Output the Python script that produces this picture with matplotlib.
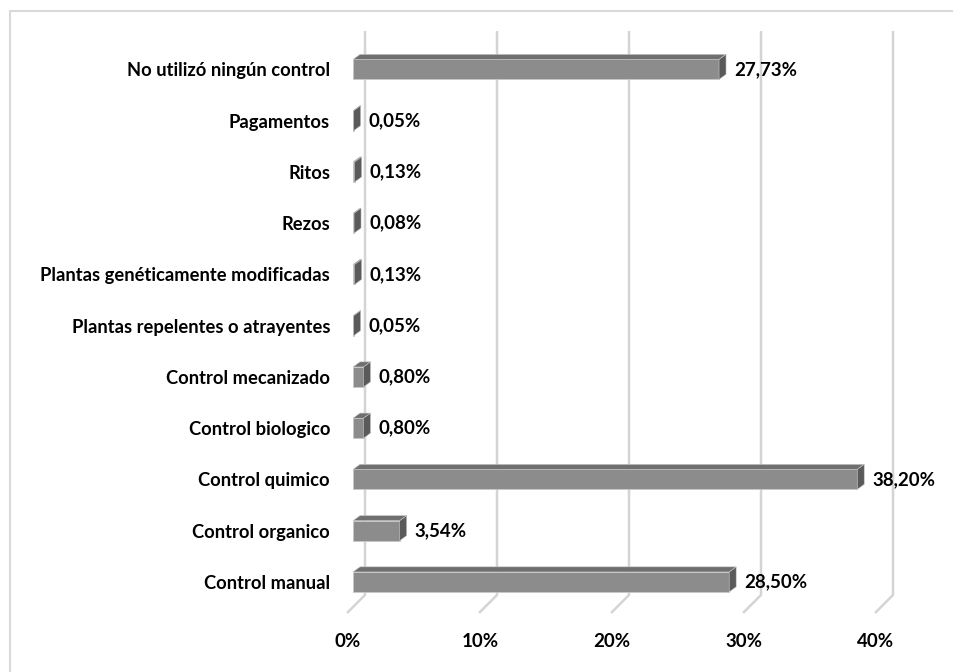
import matplotlib.pyplot as plt
from matplotlib.patches import Polygon, Rectangle
from matplotlib.transforms import ScaledTranslation

# --- Données (du bas vers le haut) ---
categories = ["Control manual", "Control organico", "Control quimico",
              "Control biologico", "Control mecanizado",
              "Plantas repelentes o atrayentes",
              "Plantas genéticamente modificadas", "Rezos", "Ritos",
              "Pagamentos", "No utilizó ningún control"]
values = [28.50, 3.54, 38.20, 0.80, 0.80, 0.05, 0.13, 0.08, 0.13, 0.05, 27.73]
value_labels = ["28,50%", "3,54%", "38,20%", "0,80%", "0,80%", "0,05%",
                "0,13%", "0,08%", "0,13%", "0,05%", "27,73%"]
xticks = [0, 10, 20, 30, 40]
xtick_labels = ["0%", "10%", "20%", "30%", "40%"]

plt.rcParams['font.family'] = ['Lato', 'DejaVu Sans']

fig = plt.figure(figsize=(9.54, 6.72), dpi=100)
ax = fig.add_axes([353 / 954, 0.0768, 554.4 / 954, 0.877])
ax.set_xlim(0, 42)
ax.set_ylim(-0.75, 10.75)

# cadre du graphique
fig.add_artist(Rectangle((10 / 954, -0.05), 1.0, (672 - 11) / 672 + 0.05,
                         transform=fig.transFigure, fill=False,
                         edgecolor="#d9d9d9", lw=1.5))

# grille "3D" : ligne verticale au fond + petite diagonale au sol
back_dx = 0.91
for t in xticks:
    ax.plot([t + back_dx, t + back_dx, t - 0.45], [10.75, -0.254, -0.605],
            color="#d4d4d4", lw=1.8, solid_capstyle="butt", clip_on=False, zorder=1)

# barres 3D
h = 0.39
dx, dy = 0.53, 0.1
ypos = list(range(len(categories)))
ax.barh(ypos, values, height=h, color="#8c8c8c", edgecolor="#c8c8c8",
        linewidth=0.6, zorder=3)
for y, v in zip(ypos, values):
    top = Polygon([(0, y + h / 2), (v, y + h / 2), (v + dx, y + h / 2 + dy),
                   (dx, y + h / 2 + dy)], closed=True, facecolor="#6f6f6f",
                  edgecolor="#c8c8c8", linewidth=0.4, zorder=3)
    side = Polygon([(v, y - h / 2), (v + dx, y - h / 2 + dy),
                    (v + dx, y + h / 2 + dy), (v, y + h / 2)], closed=True,
                   facecolor="#5a5a5a", edgecolor="#c8c8c8", linewidth=0.4, zorder=3)
    ax.add_patch(top)
    ax.add_patch(side)

for y, v, lab in zip(ypos, values, value_labels):
    ax.annotate(lab, (v + dx, y), xytext=(8, 0), textcoords="offset pixels",
                va="center", ha="left", fontsize=13.5, fontweight="bold")

ax.set_yticks(ypos)
ax.set_yticklabels(categories, fontsize=13.2, fontweight="bold")
ax.set_xticks(xticks)
ax.set_xticklabels(xtick_labels, fontsize=13.5, fontweight="bold")
ax.tick_params(axis="y", length=0, pad=16.5)
ax.tick_params(axis="x", length=0, pad=9)
shift = ScaledTranslation(-5 / 100, 0, fig.dpi_scale_trans)
for lbl in ax.get_xticklabels():
    lbl.set_transform(lbl.get_transform() + shift)

for s in ax.spines.values():
    s.set_visible(False)

fig.savefig("out.png", dpi=100)
